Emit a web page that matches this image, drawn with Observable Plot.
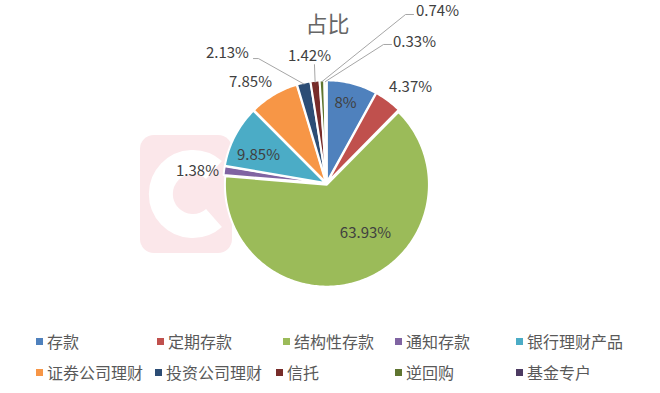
<!DOCTYPE html>
<html>
<head>
<meta charset="utf-8">
<script src="https://cdn.jsdelivr.net/npm/d3@7"></script>
<script src="https://cdn.jsdelivr.net/npm/@observablehq/plot@0.6"></script>
<style>
  html, body { margin: 0; padding: 0; background: #fff; }
  #wrap { position: relative; width: 660px; height: 393px; overflow: hidden; font-family: "Noto Sans CJK SC", "Noto Sans", sans-serif; }
  #wm { position: absolute; left: 0; top: 0; z-index: 0; }
  #chart { position: absolute; left: 0; top: 0; z-index: 1; }
  #legend { position: absolute; left: 0; top: 320px; width: 660px; height: 73px; }
  .item { position: absolute; display: flex; align-items: center; font-size: 16px; color: #595959; white-space: nowrap; line-height: 1; }
  .sw { width: 7px; height: 7px; margin-right: 4px; }
</style>
</head>
<body>
<div id="wrap">
  <svg id="wm" width="660" height="320">
    <rect x="140" y="135" width="92" height="118" rx="14" fill="#fbe7ea"></rect>
    <path d="M 214 170 A 32 32 0 1 0 214 218" fill="none" stroke="#ffffff" stroke-width="24"></path>
  </svg>
  <div id="chart"></div>
  <div id="legend"></div>
</div>
<script>
// ---- data ----
const categories = ["存款", "定期存款", "结构性存款", "通知存款", "银行理财产品", "证券公司理财", "投资公司理财", "信托", "逆回购", "基金专户"];
const shares = [8, 4.37, 63.93, 1.38, 9.85, 7.85, 2.13, 1.42, 0.74, 0.33];
const shareLabels = ["8%", "4.37%", "63.93%", "1.38%", "9.85%", "7.85%", "2.13%", "1.42%", "0.74%", "0.33%"];
const colors = ["#4F81BD", "#C0504D", "#9BBB59", "#8064A2", "#4BACC6", "#F79646", "#2C4D75", "#772C2A", "#5F7530", "#4D3B62"];
const title = "占比";

// ---- layout (pixels) ----
const W = 660, H = 320, cx = 326, cy = 183, R = 102;
// label centres (unit-radius coordinates, y up)
const labelPos = {
  "存款": [0.186, 0.784],
  "定期存款": [0.824, 0.941],
  "结构性存款": [0.382, -0.49],
  "通知存款": [-1.265, 0.118],
  "银行理财产品": [-0.667, 0.275],
  "证券公司理财": [-0.745, 0.99],
  "投资公司理财": [-0.971, 1.275],
  "信托": [-0.167, 1.245],
  "逆回购": [1.088, 1.686],
  "基金专户": [0.863, 1.382]
};
// leader line start point and elbow (unit coordinates)
const leaderPts = {
  "投资公司理财": [[-0.716, 1.225], [-0.667, 1.225]],
  "信托": [[-0.118, 1.167], [-0.118, 1.167]],
  "逆回购": [[0.853, 1.657], [0.775, 1.657]],
  "基金专户": [[0.637, 1.363], [0.559, 1.363]]
};

// ---- derived geometry ----
const total = d3.sum(shares);
let acc = 0;
const slices = categories.map((name, i) => {
  const a0 = acc / total * 2 * Math.PI;
  acc += shares[i];
  const a1 = acc / total * 2 * Math.PI;
  return {name, value: shares[i], label: shareLabels[i], a0, a1, mid: (a0 + a1) / 2};
});
const explode = 0.012;
const wedgePts = [];
for (const s of slices) {
  const ox = explode * Math.sin(s.mid), oy = explode * Math.cos(s.mid);
  wedgePts.push({name: s.name, x: ox, y: oy});
  const n = Math.max(2, Math.ceil((s.a1 - s.a0) / (Math.PI / 180)));
  for (let k = 0; k <= n; k++) {
    const a = s.a0 + (s.a1 - s.a0) * k / n;
    wedgePts.push({name: s.name, x: ox + Math.sin(a), y: oy + Math.cos(a)});
  }
}
const labels = slices.map(s => ({name: s.name, text: s.label, x: labelPos[s.name][0], y: labelPos[s.name][1]}));
const leaders = [];
for (const s of slices) {
  const lp = leaderPts[s.name];
  if (!lp) continue;
  leaders.push({name: s.name, x: lp[0][0], y: lp[0][1]});
  leaders.push({name: s.name, x: lp[1][0], y: lp[1][1]});
  leaders.push({name: s.name, x: Math.sin(s.mid), y: Math.cos(s.mid)});
}

const chart = Plot.plot({
  width: W, height: H,
  margin: 0,
  style: {background: "transparent", fontFamily: "'Noto Sans CJK SC', sans-serif"},
  x: {domain: [-cx / R, (W - cx) / R], axis: null},
  y: {domain: [-(H - cy) / R, cy / R], axis: null},
  color: {domain: categories, range: colors},
  marks: [
    Plot.line(wedgePts, {x: "x", y: "y", z: "name", fill: "name", stroke: "white", strokeWidth: 2, curve: "linear-closed"}),
    Plot.line(leaders, {x: "x", y: "y", z: "name", stroke: "#a6a6a6", strokeWidth: 1}),
    Plot.text(labels, {x: "x", y: "y", text: "text", fill: "#404040", fontSize: 15}),
    Plot.text([title], {x: [0.01], y: [1.555], text: d => d, fill: "#666666", fontSize: 22})
  ]
});
document.getElementById("chart").appendChild(chart);

// ---- legend ----
const legendRows = [[0, 1, 2, 3, 4], [5, 6, 7, 8, 9]];
const legendX = [[36, 157, 283, 395, 516], [36, 155, 276, 395, 516]];
const legendY = [21, 52];
const lg = document.getElementById("legend");
legendRows.forEach((row, r) => row.forEach((idx, c) => {
  const it = document.createElement("div");
  it.className = "item";
  it.style.left = legendX[r][c] + "px";
  it.style.top = (legendY[r] - 9) + "px";
  it.style.height = "18px";
  const sw = document.createElement("span");
  sw.className = "sw";
  sw.style.background = colors[idx];
  const tx = document.createElement("span");
  tx.textContent = categories[idx];
  it.appendChild(sw); it.appendChild(tx);
  lg.appendChild(it);
}));
</script>
</body>
</html>
